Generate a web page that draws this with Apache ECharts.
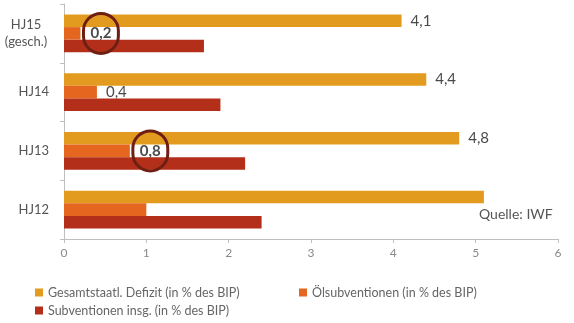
<!DOCTYPE html>
<html><head><meta charset="utf-8">
<script src="https://cdn.jsdelivr.net/npm/echarts@6/dist/echarts.min.js"></script>
<style>html,body{margin:0;padding:0;background:#fff}#c{width:574px;height:323px}</style>
</head><body><div id="c"></div>
<script>
const categories = ['HJ15\n(gesch.)', 'HJ14', 'HJ13', 'HJ12'];
const seriesNames = ['Gesamtstaatl. Defizit (in % des BIP)', 'Ölsubventionen (in % des BIP)', 'Subventionen insg. (in % des BIP)'];
const defizit = [4.1, 4.4, 4.8, 5.1];
const oel = [0.2, 0.4, 0.8, 1.0];
const subv = [1.7, 1.9, 2.2, 2.4];
const defizitLabeled = [true, true, true, false];
const oelLabeled = [true, true, true, false];
const oelCircled = [true, false, true, false];
const xTicks = [0, 1, 2, 3, 4, 5, 6];
const colors = ['#E39B1F', '#E5671F', '#B32F1A'];
const FONT = 'Lato, "Open Sans", sans-serif';
const fmt = v => String(v).replace('.', ',');

const chart = echarts.init(document.getElementById('c'), null, {renderer: 'canvas'});
chart.setOption({
  animation: false,
  textStyle: {fontFamily: FONT},
  grid: {left: 63, right: 16, top: 4, bottom: 84},
  title: {text: 'Quelle: IWF', left: 474, top: 202, textStyle: {fontFamily: FONT, fontSize: 14, fontWeight: 'normal', color: '#555'}},
  xAxis: {
    type: 'value', min: xTicks[0], max: xTicks[xTicks.length - 1], interval: 1,
    axisLine: {show: true, lineStyle: {color: '#bfbfbf'}},
    axisTick: {show: true, length: 4, lineStyle: {color: '#bfbfbf'}},
    axisLabel: {color: '#8a8a8a', fontSize: 12, margin: 8, formatter: v => String(v)},
    splitLine: {show: false}
  },
  yAxis: {
    type: 'category', data: categories, inverse: true,
    axisLine: {lineStyle: {color: '#bfbfbf'}},
    axisTick: {show: true, length: 4, lineStyle: {color: '#bfbfbf'}},
    axisLabel: {
      color: '#555', fontSize: 13, margin: 15, align: 'right',
      formatter: v => v.indexOf('\n') >= 0 ? v.split('\n').map(s => '{c|' + s + '}').join('\n') : v,
      rich: {c: {width: 46, align: 'center', fontSize: 13, lineHeight: 17, color: '#555'}}
    }
  },
  legend: [
    {data: [seriesNames[0], seriesNames[2]], orient: 'vertical', left: 30, top: 281, itemWidth: 8, itemHeight: 8, itemGap: 5, icon: 'rect',
     textStyle: {color: '#666', fontSize: 12.5, fontFamily: FONT}},
    {data: [seriesNames[1]], orient: 'vertical', left: 294, top: 281, itemWidth: 8, itemHeight: 8, itemGap: 5, icon: 'rect',
     textStyle: {color: '#666', fontSize: 12.5, fontFamily: FONT}}
  ],
  series: [
    {
      name: seriesNames[0], type: 'bar', barGap: '0%', barCategoryGap: '36%',
      itemStyle: {color: colors[0]},
      data: defizit.map((v, i) => ({value: v, label: {show: defizitLabeled[i]}})),
      label: {position: 'right', distance: 9, color: '#4a4a4a', fontSize: 15, formatter: p => fmt(p.value)}
    },
    {
      name: seriesNames[1], type: 'bar', barGap: '0%', barCategoryGap: '36%',
      itemStyle: {color: colors[1]},
      data: oel.map((v, i) => ({
        value: v,
        label: oelCircled[i]
          ? {show: true, distance: 3, padding: [13, 7, 12, 7], borderRadius: 20,
             borderColor: '#6E1F14', borderWidth: 3, fontWeight: 'bold', color: '#4a4a4a'}
          : {show: oelLabeled[i]}
      })),
      label: {position: 'right', distance: 9, color: '#4a4a4a', fontSize: 15, formatter: p => fmt(p.value)}
    },
    {
      name: seriesNames[2], type: 'bar', barGap: '0%', barCategoryGap: '36%',
      itemStyle: {color: colors[2]},
      data: subv
    }
  ]
});
</script></body></html>
